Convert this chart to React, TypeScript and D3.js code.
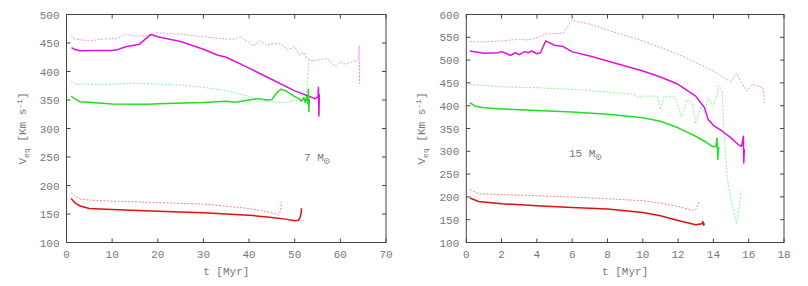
import * as d3 from "d3";

// ---- data: [t (Myr), Veq (km/s)] ----

// 7 Msun panel
const m7MagentaSolid = [[1.1,442],[2,438],[3,436.5],[6,437],[10,437],[11,438],[13,443.5],[16,448],[17,455],[18.5,465],[20,461],[25,452.6],[30,439],[33,429],[35,425],[40,406],[45,386],[50,366],[53,357],[54.5,352],[55.1,356],[55.2,372],[55.3,322],[55.4,360]];
const m7MagentaDash = [[1,462.5],[2,456.7],[5,453.7],[8,457],[11,458],[13,465],[15,462.5],[17,462],[20,468],[25,465.5],[30,461],[35,456.7],[37,457],[38,461],[39,456],[40,451],[41,445],[42.5,453.7],[44,445.5],[45,449.6],[47,448],[48.5,438],[50,444],[51,429],[52,433],[52.5,425],[53.5,418.6],[55,420],[57,423],[59,408.6],[60,417],[61,413],[62,415.6],[64,420],[64.1,445],[64.2,379],[64.25,418]];
const m7GreenSolid = [[1,357],[2,351],[3,347],[5,346],[10,343],[18,342.5],[20,343.6],[30,345.4],[35,348],[37,346],[40,350],[42,352.4],[44,350],[45,351],[46,361.8],[47,369],[48,366.5],[50,356],[51,352],[51.5,348],[52,354],[52.3,346],[52.6,356],[52.8,344],[53,369],[53.1,330],[53.2,352]];
const m7GreenDash = [[1,383.5],[2,378],[5,377.6],[10,377.6],[15,379.4],[20,378],[25,376.4],[30,372.3],[35,366.5],[40,356],[43,350],[45,347],[46,346],[48,345.4],[50,349],[51,351],[51.5,348],[52,356],[52.4,352],[52.6,362],[52.8,385],[53,410],[53.1,423]];
const m7RedSolid = [[1,177.3],[2,168.5],[3,164],[5,159.7],[10,158],[20,155],[30,152],[40,148],[45,144],[48,141],[50,138],[50.8,139],[51.2,144],[51.4,152],[51.5,160]];
const m7RedDash = [[1,188],[2,180],[3,176],[5,174.4],[10,172.6],[20,170],[30,167.4],[40,159.7],[45,152],[46.5,148],[46.9,156],[47,164],[47.1,171.5]];

// 15 Msun panel
const m15MagentaSolid = [[0.2,520],[1,515],[1.8,516],[2,518.6],[2.3,514],[2.5,510.6],[2.8,516],[3,512],[3.3,518.6],[3.5,516],[3.7,520],[4,514],[4.2,516],[4.5,542],[5,532.5],[5.5,529.6],[6,518],[7,509],[8,498],[9,487],[10,476],[11,463],[12,447],[13,421],[13.5,395.5],[13.7,370],[14,357],[14.5,344],[15,329.4],[15.4,314.8],[15.6,311],[15.7,333],[15.72,274.5],[15.75,305]];
const m15MagentaDash = [[0.2,540.6],[1,540],[2,542],[3,546],[3.5,544],[4,549],[4.5,557],[5.5,559],[6,587.5],[7,578.7],[8,566],[10,542],[12,513],[14,476],[15,452],[15.3,471],[15.6,450.4],[15.9,432],[16.2,447],[16.8,439.4],[16.9,406]];
const m15GreenSolid = [[0.2,406.5],[0.5,399],[1,395.5],[2,393],[4,389.6],[6,386],[8,381],[10,373.5],[11,366],[12,351.5],[13,333],[13.5,322],[14,309.7],[14.15,311],[14.2,329],[14.25,282],[14.3,310]];
const m15GreenDash = [[0.2,446.8],[2,441.6],[4,439.4],[6,435.8],[8,430],[9.5,424.8],[9.8,417.5],[10,421],[10.8,421],[11,392],[11.2,419.6],[11.8,419.6],[12.2,375.6],[12.5,414],[12.8,406.5],[13,361],[13.3,399],[13.5,384.5],[13.7,417.5],[14,399],[14.2,421],[14.3,443],[14.5,432],[14.6,340],[14.8,238],[15,194],[15.3,142.5],[15.5,186.5],[15.55,212]];
const m15RedSolid = [[0.2,197.5],[0.7,190],[2,185],[4,180.6],[6,177],[8,173.3],[10,166],[11,158.7],[12,148.4],[13,139],[13.35,141],[13.4,146],[13.45,138],[13.5,142]];
const m15RedDash = [[0.2,216],[0.7,207],[2,205],[4,202.6],[6,199.7],[8,196],[10,191.6],[11,186.5],[12,179],[12.8,170.4],[13,172],[13.2,190]];

const leftXTicks = [0, 10, 20, 30, 40, 50, 60, 70];
const leftYTicks = [100, 150, 200, 250, 300, 350, 400, 450, 500];
const rightXTicks = [0, 2, 4, 6, 8, 10, 12, 14, 16, 18];
const rightYTicks = [100, 150, 200, 250, 300, 350, 400, 450, 500, 550, 600];

const MONO = "'Liberation Mono', 'DejaVu Sans Mono', monospace";
const TXT = "#777";

type Pt = number[];
type Series = { data: Pt[]; color: string; dash?: boolean };

function Panel({ x0, x1, xDomain, yDomain, xTicks, yTicks, series, mass, labelX, labelY, labelSvgX }: {
  x0: number; x1: number; xDomain: number[]; yDomain: number[]; xTicks: number[]; yTicks: number[];
  series: Series[]; mass: string; labelX: number; labelY: number; labelSvgX: number;
}) {
  const top = 14.5, bottom = 242.5;
  const x = d3.scaleLinear(xDomain, [x0, x1]);
  const y = d3.scaleLinear(yDomain, [bottom, top]);
  const line = d3.line<Pt>(d => x(d[0]), d => y(d[1]));
  const tl = 4;
  return (
    <g>
      {series.map((s, i) => (
        <path key={i} d={line(s.data) ?? ""} fill="none" stroke={s.color}
          strokeWidth={s.dash ? 0.8 : 1.5} strokeDasharray={s.dash ? "2,1.5" : undefined}
          strokeLinejoin="round" />
      ))}
      <rect x={x0} y={top} width={x1 - x0} height={bottom - top} fill="none" stroke="#444" strokeWidth={1} />
      {xTicks.map(t => (
        <g key={"x" + t}>
          <line x1={x(t)} x2={x(t)} y1={bottom} y2={bottom - tl} stroke="#444" />
          <line x1={x(t)} x2={x(t)} y1={top} y2={top + tl} stroke="#444" />
          <text x={x(t)} y={258} textAnchor="middle" fontFamily={MONO} fontSize={11} fill={TXT}>{t}</text>
        </g>
      ))}
      {yTicks.map(t => (
        <g key={"y" + t}>
          <line x1={x0} x2={x0 + tl} y1={y(t)} y2={y(t)} stroke="#444" />
          <line x1={x1} x2={x1 - tl} y1={y(t)} y2={y(t)} stroke="#444" />
          <text x={x0 - 7} y={y(t) + 4} textAnchor="end" fontFamily={MONO} fontSize={11} fill={TXT}>{t}</text>
        </g>
      ))}
      <text x={(x0 + x1) / 2} y={275} textAnchor="middle" fontFamily={MONO} fontSize={11} fill={TXT}>t [Myr]</text>
      <text transform={`translate(${labelSvgX},${(top + bottom) / 2}) rotate(-90)`} textAnchor="middle"
        fontFamily={MONO} fontSize={11} fill={TXT}>
        V<tspan fontSize={8} dy={3}>eq</tspan><tspan dy={-3}> [Km s</tspan><tspan fontSize={8} dy={-4}>-1</tspan><tspan dy={4}>]</tspan>
      </text>
      <text x={labelX} y={labelY} fontFamily={MONO} fontSize={11} fill={TXT}>
        {mass} M<tspan fontSize={10} dy={3}>⊙</tspan>
      </text>
    </g>
  );
}

export default function App() {
  const left: Series[] = [
    { data: m7MagentaDash, color: "#e67ee6", dash: true },
    { data: m7GreenDash, color: "#7eea7e", dash: true },
    { data: m7RedDash, color: "#ee6a6a", dash: true },
    { data: m7MagentaSolid, color: "#e010e0" },
    { data: m7GreenSolid, color: "#22dd22" },
    { data: m7RedSolid, color: "#e01010" },
  ];
  const right: Series[] = [
    { data: m15MagentaDash, color: "#e67ee6", dash: true },
    { data: m15GreenDash, color: "#7eea7e", dash: true },
    { data: m15RedDash, color: "#ee6a6a", dash: true },
    { data: m15MagentaSolid, color: "#e010e0" },
    { data: m15GreenSolid, color: "#22dd22" },
    { data: m15RedSolid, color: "#e01010" },
  ];
  return (
    <svg width={808} height={286} style={{ position: "absolute", left: 0, top: 0, background: "#fff" }}>
      <Panel x0={66.5} x1={386} xDomain={[0, 70]} yDomain={[100, 500]} xTicks={leftXTicks} yTicks={leftYTicks}
        series={left} mass="7" labelX={304} labelY={161} labelSvgX={26} />
      <Panel x0={466.3} x1={784} xDomain={[0, 18]} yDomain={[100, 600]} xTicks={rightXTicks} yTicks={rightYTicks}
        series={right} mass="15" labelX={569} labelY={157} labelSvgX={425} />
    </svg>
  );
}
